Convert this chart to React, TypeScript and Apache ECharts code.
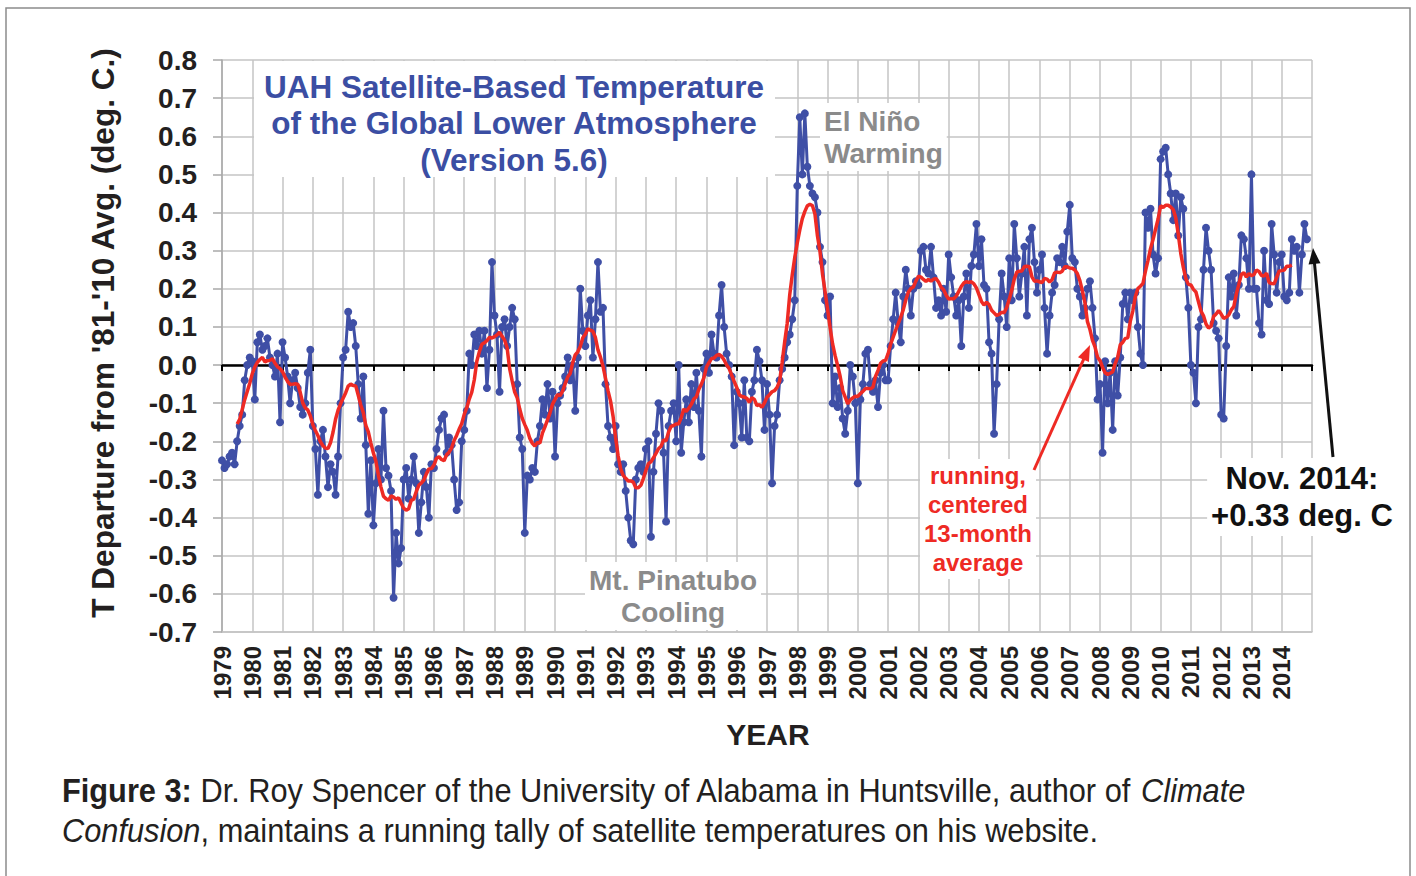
import React, { useEffect, useRef } from "react";
import * as echarts from "echarts";

// ---- data -------------------------------------------------------------
const START_YEAR = 1979;
const END_YEAR = 2015;
const LAST_LABEL_YEAR = 2014;

// UAH LT monthly anomalies (deg C), Jan 1979 .. Nov 2014
const anomalies: number[] = [
  /*1979*/ -0.25, -0.27, -0.26, -0.24, -0.23, -0.26, -0.2, -0.16, -0.13, -0.04, 0.0, 0.02,
  /*1980*/ 0.01, -0.09, 0.06, 0.08, 0.04, 0.05, 0.07, 0.02, 0.0, -0.03, 0.03, -0.15,
  /*1981*/ 0.06, 0.02, -0.03, -0.1, -0.04, -0.02, -0.06, -0.11, -0.13, -0.1, -0.02, 0.04,
  /*1982*/ -0.16, -0.22, -0.34, -0.2, -0.17, -0.24, -0.32, -0.26, -0.28, -0.34, -0.24, -0.1,
  /*1983*/ 0.02, 0.04, 0.14, 0.1, 0.11, 0.05, -0.05, -0.14, -0.03, -0.21, -0.39, -0.25,
  /*1984*/ -0.42, -0.31, -0.22, -0.3, -0.12, -0.27, -0.29, -0.33, -0.61, -0.44, -0.52, -0.48,
  /*1985*/ -0.3, -0.27, -0.35, -0.3, -0.24, -0.31, -0.44, -0.36, -0.28, -0.32, -0.4, -0.26,
  /*1986*/ -0.27, -0.22, -0.17, -0.14, -0.13, -0.23, -0.19, -0.21, -0.3, -0.38, -0.36, -0.2,
  /*1987*/ -0.17, -0.12, 0.03, 0.0, 0.08, 0.05, 0.09, 0.03, 0.09, -0.06, 0.04, 0.27,
  /*1988*/ 0.13, 0.08, -0.07, 0.1, 0.12, 0.05, 0.1, 0.15, 0.12, -0.05, -0.19, -0.22,
  /*1989*/ -0.44, -0.29, -0.3, -0.27, -0.28, -0.2, -0.16, -0.09, -0.13, -0.05, -0.14, -0.07,
  /*1990*/ -0.24, -0.1, -0.08, -0.06, -0.03, 0.02, -0.04, 0.0, -0.12, 0.02, 0.2, 0.09,
  /*1991*/ 0.05, 0.13, 0.17, 0.02, 0.12, 0.27, 0.14, 0.15, -0.05, -0.16, -0.19, -0.22,
  /*1992*/ -0.16, -0.26, -0.28, -0.26, -0.33, -0.4, -0.46, -0.47, -0.3, -0.27, -0.26, -0.28,
  /*1993*/ -0.22, -0.2, -0.45, -0.28, -0.18, -0.1, -0.12, -0.23, -0.41, -0.16, -0.12, -0.1,
  /*1994*/ -0.2, 0.0, -0.23, -0.15, -0.09, -0.15, -0.05, -0.11, -0.02, -0.12, -0.24, -0.01,
  /*1995*/ 0.03, -0.02, 0.08, 0.03, 0.02, 0.13, 0.21, 0.1, 0.03, 0.0, -0.03, -0.21,
  /*1996*/ -0.07, -0.1, -0.19, -0.04, -0.19, -0.2, -0.07, -0.04, 0.04, 0.01, -0.04, -0.17,
  /*1997*/ -0.05, -0.13, -0.31, -0.16, -0.13, -0.04, -0.01, 0.02, 0.06, 0.08, 0.12, 0.17,
  /*1998*/ 0.47, 0.65, 0.5, 0.66, 0.52, 0.47, 0.45, 0.44, 0.4, 0.31, 0.27, 0.17,
  /*1999*/ 0.13, 0.18, -0.1, -0.03, -0.11, -0.06, -0.14, -0.18, -0.12, 0.0, -0.03, -0.1,
  /*2000*/ -0.31, -0.09, -0.05, 0.03, 0.04, -0.05, -0.07, -0.04, -0.11, -0.02, 0.0, -0.04,
  /*2001*/ -0.04, 0.05, 0.12, 0.19, 0.11, 0.06, 0.18, 0.25, 0.2, 0.13, 0.2, 0.22,
  /*2002*/ 0.21, 0.3, 0.31, 0.25, 0.24, 0.31, 0.23, 0.15, 0.17, 0.13, 0.2, 0.14,
  /*2003*/ 0.29, 0.23, 0.18, 0.13, 0.17, 0.05, 0.18, 0.24, 0.15, 0.26, 0.29, 0.37,
  /*2004*/ 0.26, 0.33, 0.21, 0.2, 0.06, 0.03, -0.18, -0.05, 0.12, 0.24, 0.18, 0.1,
  /*2005*/ 0.28, 0.17, 0.37, 0.28, 0.18, 0.24, 0.31, 0.13, 0.33, 0.36, 0.27, 0.19,
  /*2006*/ 0.25, 0.29, 0.15, 0.03, 0.13, 0.19, 0.21, 0.28, 0.27, 0.31, 0.26, 0.35,
  /*2007*/ 0.42, 0.28, 0.27, 0.2, 0.18, 0.13, 0.15, 0.2, 0.22, 0.15, 0.07, -0.09,
  /*2008*/ -0.05, -0.23, 0.01, -0.1, -0.02, -0.17, 0.01, -0.08, 0.02, 0.16, 0.19, 0.12,
  /*2009*/ 0.19, 0.17, 0.19, 0.1, 0.03, 0.0, 0.4, 0.36, 0.41, 0.29, 0.24, 0.28,
  /*2010*/ 0.54, 0.56, 0.57, 0.5, 0.45, 0.38, 0.45, 0.34, 0.44, 0.41, 0.23, 0.15,
  /*2011*/ 0.0, -0.02, -0.1, 0.1, 0.12, 0.25, 0.36, 0.3, 0.25, 0.11, 0.09, 0.07,
  /*2012*/ -0.13, -0.14, 0.05, 0.23, 0.18, 0.24, 0.13, 0.21, 0.34, 0.33, 0.28, 0.2,
  /*2013*/ 0.5, 0.2, 0.2, 0.11, 0.08, 0.3, 0.17, 0.16, 0.37, 0.29, 0.19, 0.27,
  /*2014*/ 0.29, 0.18, 0.17, 0.19, 0.33, 0.3, 0.31, 0.19, 0.29, 0.37, 0.33,
];

const RUNNING_WINDOW = 13; // centered 13-month average

const titleLines = [
  "UAH Satellite-Based Temperature",
  "of the Global Lower Atmosphere",
  "(Version 5.6)",
];
const yAxisTitle = "T Departure from '81-'10 Avg. (deg. C.)";
const xAxisTitle = "YEAR";

// ---- styling ----------------------------------------------------------
const FONT = "'Liberation Sans', Arial, Helvetica, sans-serif";
const GRID = "#c4c4c4";
const BLUE = "#3f4fa6";
const RED = "#ee2a24";
const TEXT = "#231f20";
const GRAY_TXT = "#8b8b8b";

function txt(
  text: string,
  x: number,
  y: number,
  size: number,
  fill: string,
  extra: any = {}
) {
  const { align = "center", vAlign = "middle", z = 5, rotation, style = {} } = extra;
  const el: any = {
    type: "text",
    x,
    y,
    z,
    silent: true,
    style: {
      text,
      fontSize: size,
      fontWeight: "bold",
      fontFamily: FONT,
      fill,
      align,
      verticalAlign: vAlign,
      textAlign: align,
      textVerticalAlign: vAlign,
      ...style,
    },
  };
  if (rotation !== undefined) el.rotation = rotation;
  return el;
}

function arrow(x1: number, y1: number, x2: number, y2: number, color: string) {
  const dx = x2 - x1;
  const dy = y2 - y1;
  const L = Math.hypot(dx, dy);
  const ux = dx / L;
  const uy = dy / L;
  const headLen = 16;
  const headW = 6;
  const bx = x2 - ux * headLen;
  const by = y2 - uy * headLen;
  const px = -uy;
  const py = ux;
  return [
    {
      type: "line",
      z: 10,
      silent: true,
      shape: { x1, y1, x2: bx + ux * 2, y2: by + uy * 2 },
      style: { stroke: color, lineWidth: 3 },
    },
    {
      type: "polygon",
      z: 10,
      silent: true,
      shape: {
        points: [
          [x2, y2],
          [bx + px * headW, by + py * headW],
          [bx - px * headW, by - py * headW],
        ],
      },
      style: { fill: color },
    },
  ];
}

export default function App() {
  const ref = useRef<HTMLDivElement>(null);

  useEffect(() => {
    document.body.style.margin = "0";
    if (!ref.current) return;
    const chart = echarts.init(ref.current, null, { renderer: "svg" });

    const monthly = anomalies.map((v, i) => [START_YEAR + i / 12, v]);
    const half = Math.floor(RUNNING_WINDOW / 2);
    const running: number[][] = [];
    for (let i = half; i < anomalies.length - half; i++) {
      let s = 0;
      for (let k = -half; k <= half; k++) s += anomalies[i + k];
      running.push([START_YEAR + i / 12, s / RUNNING_WINDOW]);
    }

    const boxText = { backgroundColor: "#ffffff", padding: [2, 4, 2, 4] };
    const capSize = 34;
    const capScale = 0.905;

    const option: any = {
      animation: false,
      backgroundColor: "#ffffff",
      grid: { left: 222, right: 104, top: 60, bottom: 244, containLabel: false },
      xAxis: [
        {
          type: "value",
          min: START_YEAR,
          max: END_YEAR,
          interval: 1,
          position: "bottom",
          axisLine: { show: true, onZero: false, lineStyle: { color: GRID, width: 1.5 } },
          axisTick: { show: false },
          axisLabel: {
            rotate: 90,
            margin: 14,
            fontSize: 24,
            fontWeight: "bold",
            fontFamily: FONT,
            color: TEXT,
            formatter: (v: number) => (v <= LAST_LABEL_YEAR ? String(v) : ""),
          },
          splitLine: { show: true, lineStyle: { color: GRID, width: 1.5 } },
        },
        {
          type: "value",
          min: START_YEAR,
          max: END_YEAR,
          interval: 1,
          position: "bottom",
          axisLine: { show: true, onZero: true, lineStyle: { color: "#000", width: 2.5 } },
          axisTick: { show: true, length: 6, lineStyle: { color: "#000", width: 2 } },
          axisLabel: { show: false },
          splitLine: { show: false },
        },
      ],
      yAxis: {
        type: "value",
        min: -0.7,
        max: 0.8,
        interval: 0.1,
        axisLine: { show: true, lineStyle: { color: "#a8a8a8", width: 1.5 } },
        axisTick: { show: true, length: 9, lineStyle: { color: "#a8a8a8", width: 1.5 } },
        axisLabel: {
          margin: 25,
          fontSize: 28,
          fontWeight: "bold",
          fontFamily: FONT,
          color: TEXT,
          formatter: (v: number) => (Math.abs(v) < 1e-9 ? "0.0" : v.toFixed(1)),
        },
        splitLine: { show: true, lineStyle: { color: GRID, width: 1.5 } },
      },
      series: [
        {
          type: "line",
          name: "monthly",
          data: monthly,
          xAxisIndex: 0,
          symbol: "circle",
          symbolSize: 8,
          lineStyle: { color: BLUE, width: 3 },
          itemStyle: { color: BLUE },
          z: 3,
          silent: true,
        },
        {
          type: "line",
          name: "running",
          data: running,
          xAxisIndex: 0,
          symbol: "none",
          lineStyle: { color: RED, width: 3.5 },
          z: 4,
          silent: true,
        },
      ],
      graphic: [
        // outer figure frame
        {
          type: "rect",
          z: 0,
          silent: true,
          shape: { x: 6, y: 8, width: 1404, height: 900 },
          style: { fill: "none", stroke: "#8c8c8c", lineWidth: 1.5 },
        },
        // title box
        {
          type: "rect",
          z: 1,
          silent: true,
          shape: { x: 254, y: 61, width: 521, height: 116 },
          style: { fill: "#ffffff" },
        },
        txt(titleLines[0], 514, 87, 31.5, "#3b4ea3"),
        txt(titleLines[1], 514, 123, 31.5, "#3b4ea3"),
        txt(titleLines[2], 514, 160, 31.5, "#3b4ea3"),
        // annotations
        txt("El Niño\nWarming", 820, 103, 28, GRAY_TXT, {
          align: "left",
          vAlign: "top",
          style: { lineHeight: 32, ...boxText },
        }),
        txt("Mt. Pinatubo\nCooling", 673, 562, 28, GRAY_TXT, {
          vAlign: "top",
          style: { lineHeight: 32, ...boxText },
        }),
        txt("running,\ncentered\n13-month\naverage", 978, 459, 24, RED, {
          vAlign: "top",
          style: { lineHeight: 29, ...boxText },
        }),
        txt("Nov. 2014:\n+0.33 deg. C", 1302, 458, 31, "#111111", {
          vAlign: "top",
          style: { lineHeight: 37, ...boxText },
        }),
        ...arrow(1034, 470, 1090, 345, RED),
        ...arrow(1333, 457, 1313, 248, "#111111"),
        // axis titles
        txt(yAxisTitle, 103, 333, 31.5, TEXT, { rotation: Math.PI / 2 }),
        txt(xAxisTitle, 768, 734, 30, TEXT),
        // caption
        {
          type: "text",
          x: 62,
          y: 790,
          z: 5,
          scaleX: capScale,
          silent: true,
          style: {
            text:
              "{b|Figure 3:} Dr. Roy Spencer of the University of Alabama in Huntsville, author of {i|Climate}",
            fontSize: capSize,
            fontFamily: FONT,
            fill: TEXT,
            verticalAlign: "middle",
            textVerticalAlign: "middle",
            rich: {
              b: { fontSize: capSize, fontFamily: FONT, fontWeight: "bold", fill: TEXT },
              i: { fontSize: capSize, fontFamily: FONT, fontStyle: "italic", fill: TEXT },
            },
          },
        },
        {
          type: "text",
          x: 62,
          y: 830,
          z: 5,
          scaleX: capScale,
          silent: true,
          style: {
            text:
              "{i|Confusion}, maintains a running tally of satellite temperatures on his website.",
            fontSize: capSize,
            fontFamily: FONT,
            fill: TEXT,
            verticalAlign: "middle",
            textVerticalAlign: "middle",
            rich: {
              i: { fontSize: capSize, fontFamily: FONT, fontStyle: "italic", fill: TEXT },
            },
          },
        },
      ],
    };

    chart.setOption(option);
    return () => chart.dispose();
  }, []);

  return (
    <div
      ref={ref}
      style={{ width: 1416, height: 876, background: "#ffffff", overflow: "hidden" }}
    />
  );
}
